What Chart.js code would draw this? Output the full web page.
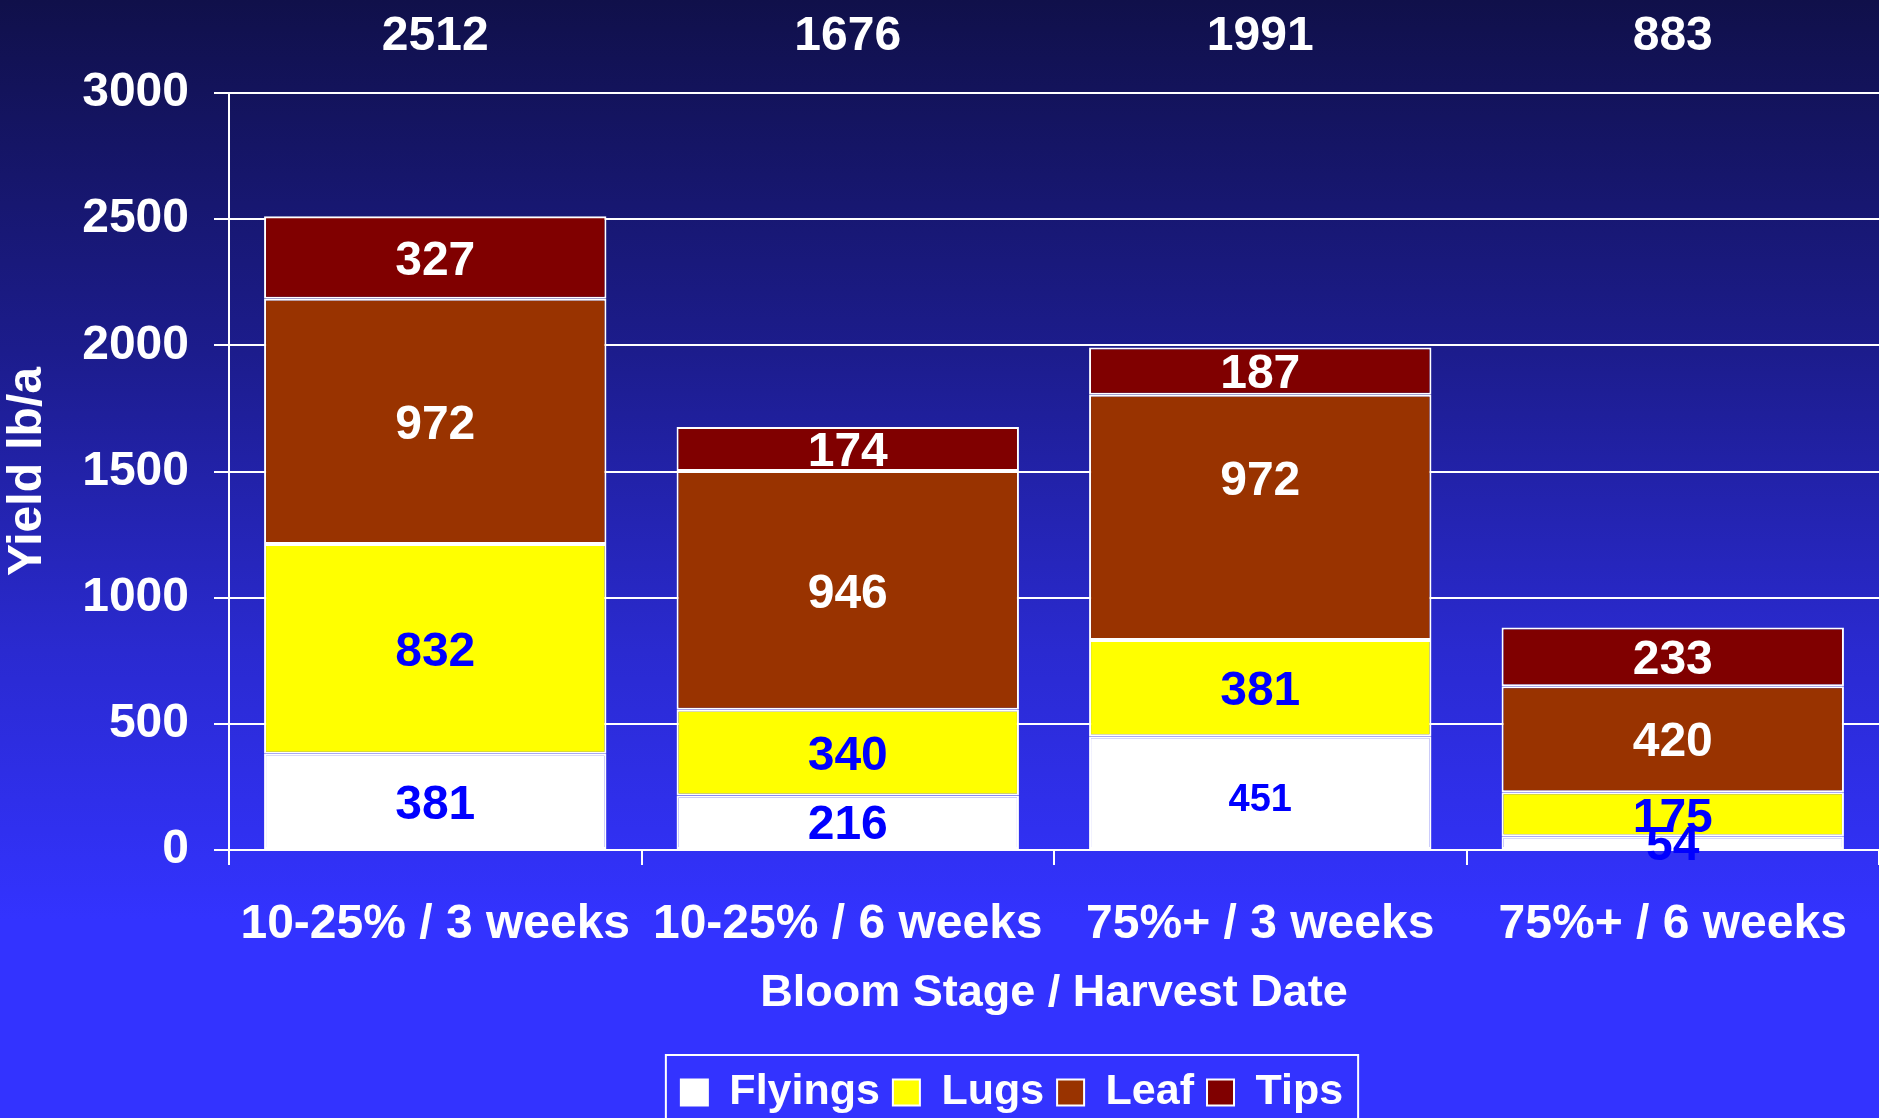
<!DOCTYPE html>
<html>
<head>
<meta charset="utf-8">
<script src="https://cdn.jsdelivr.net/npm/chart.js@4.4.0/dist/chart.umd.min.js"></script>
<style>
  html, body { margin: 0; padding: 0; background: #3333ff; }
  #wrap { width: 1879px; height: 1118px; overflow: hidden;
    background: linear-gradient(to bottom, #10104a 0px, #1c1c8c 350px, #2a2ad0 650px, #3333ff 920px, #3333ff 1118px); }
  canvas { display: block; }
</style>
</head>
<body>
<div id="wrap"><canvas id="c" width="1879" height="1118"></canvas></div>
<script>
const categories = ['10-25% / 3 weeks', '10-25% / 6 weeks', '75%+ / 3 weeks', '75%+ / 6 weeks'];
const seriesNames = ['Flyings', 'Lugs', 'Leaf', 'Tips'];
const flyings = [381, 216, 451, 54];
const lugs = [832, 340, 381, 175];
const leaf = [972, 946, 972, 420];
const tips = [327, 174, 187, 233];
const totals = [2512, 1676, 1991, 883];
const yTicks = [0, 500, 1000, 1500, 2000, 2500, 3000];

const FONT = "'Liberation Sans', Arial, Helvetica, sans-serif";
const fills = ['#FFFFFF', '#FFFF00', '#993300', '#800000'];
const labelColors = ['#0000FF', '#0000FF', '#FFFFFF', '#FFFFFF'];
const smallLabel = { '0-2': 38 };
const labelShift = { '0-2': 4, '2-2': -40 };

const seriesValues = [flyings, lugs, leaf, tips];
const datasets = seriesNames.map((name, i) => ({
  label: name,
  data: seriesValues[i],
  backgroundColor: fills[i],
  borderColor: '#FFFFFF',
  borderWidth: 2,
  borderSkipped: false,
  barPercentage: 0.83,
  categoryPercentage: 1.0
}));

const segLabels = {
  id: 'segLabels',
  afterDatasetsDraw(chart) {
    const ctx = chart.ctx;
    ctx.save();
    ctx.textAlign = 'center';
    ctx.textBaseline = 'middle';
    chart.data.datasets.forEach((ds, di) => {
      const meta = chart.getDatasetMeta(di);
      meta.data.forEach((bar, j) => {
        const key = di + '-' + j;
        const size = smallLabel[key] || 48;
        ctx.font = 'bold ' + size + 'px ' + FONT;
        ctx.fillStyle = labelColors[di];
        ctx.fillText(String(ds.data[j]), bar.x, (bar.y + bar.base) / 2 + 4 + (labelShift[key] || 0));
      });
    });
    const xs = chart.scales.x;
    ctx.font = 'bold 48px ' + FONT;
    ctx.fillStyle = '#FFFFFF';
    totals.forEach((t, j) => {
      ctx.fillText(String(t), xs.getPixelForValue(j), 37);
    });
    ctx.restore();
  }
};

const legendFrame = {
  id: 'legendFrame',
  afterLayout(chart) {
    const L = chart.legend;
    L.left += 70; L.right += 70;
    L.top += 6; L.bottom += 6;
  },
  afterDraw(chart) {
    const L = chart.legend;
    const pad = L.options.labels.padding;
    const lw = L.lineWidths[0];
    const rowStart = (L.left + pad + L.right - lw) / 2;
    const ctx = chart.ctx;
    ctx.save();
    ctx.strokeStyle = '#FFFFFF';
    ctx.lineWidth = 2;
    ctx.strokeRect(rowStart - 15, 1055, lw - pad + 30, 100);
    ctx.restore();
  }
};

new Chart(document.getElementById('c'), {
  type: 'bar',
  data: { labels: categories, datasets },
  plugins: [segLabels, legendFrame],
  options: {
    responsive: false,
    animation: false,
    layout: { padding: { top: 93, left: 0, right: -5, bottom: 0 } },
    plugins: {
      tooltip: { enabled: false },
      legend: {
        position: 'bottom',
        labels: {
          color: '#FFFFFF',
          boxWidth: 27,
          boxHeight: 26,
          padding: 13,
          font: { family: FONT, size: 43, weight: 'bold' }
        }
      }
    },
    scales: {
      x: {
        stacked: true,
        offset: true,
        grid: { display: true, drawOnChartArea: false, drawTicks: true, tickLength: 15, color: '#FFFFFF', lineWidth: 2 },
        border: { display: true, color: '#FFFFFF', width: 2 },
        ticks: { color: '#FFFFFF', padding: 31, autoSkip: false, maxRotation: 0, minRotation: 0,
                 font: { family: FONT, size: 48, weight: 'bold', lineHeight: 1.2 } },
        title: { display: true, text: 'Bloom Stage / Harvest Date', color: '#FFFFFF',
                 font: { family: FONT, size: 45, weight: 'bold', lineHeight: 1.2 },
                 padding: { top: 10, bottom: 31 } },
        afterFit(scale) { scale.height = 202; }
      },
      y: {
        stacked: true,
        min: 0,
        max: 3000,
        afterBuildTicks(scale) { scale.ticks = yTicks.map(v => ({ value: v })); },
        grid: { color: '#FFFFFF', lineWidth: 2, tickLength: 15, drawTicks: true },
        border: { display: true, color: '#FFFFFF', width: 2 },
        ticks: { color: '#FFFFFF', padding: 25, callback: (v) => String(v),
                 font: { family: FONT, size: 48, weight: 'bold', lineHeight: 1.2 } },
        title: { display: true, text: 'Yield lb/a', color: '#FFFFFF',
                 font: { family: FONT, size: 48, weight: 'bold', lineHeight: 1 },
                 padding: { top: 4, bottom: 10 } },
        afterFit(scale) { scale.width = 229; }
      }
    }
  }
});
</script>
</body>
</html>
